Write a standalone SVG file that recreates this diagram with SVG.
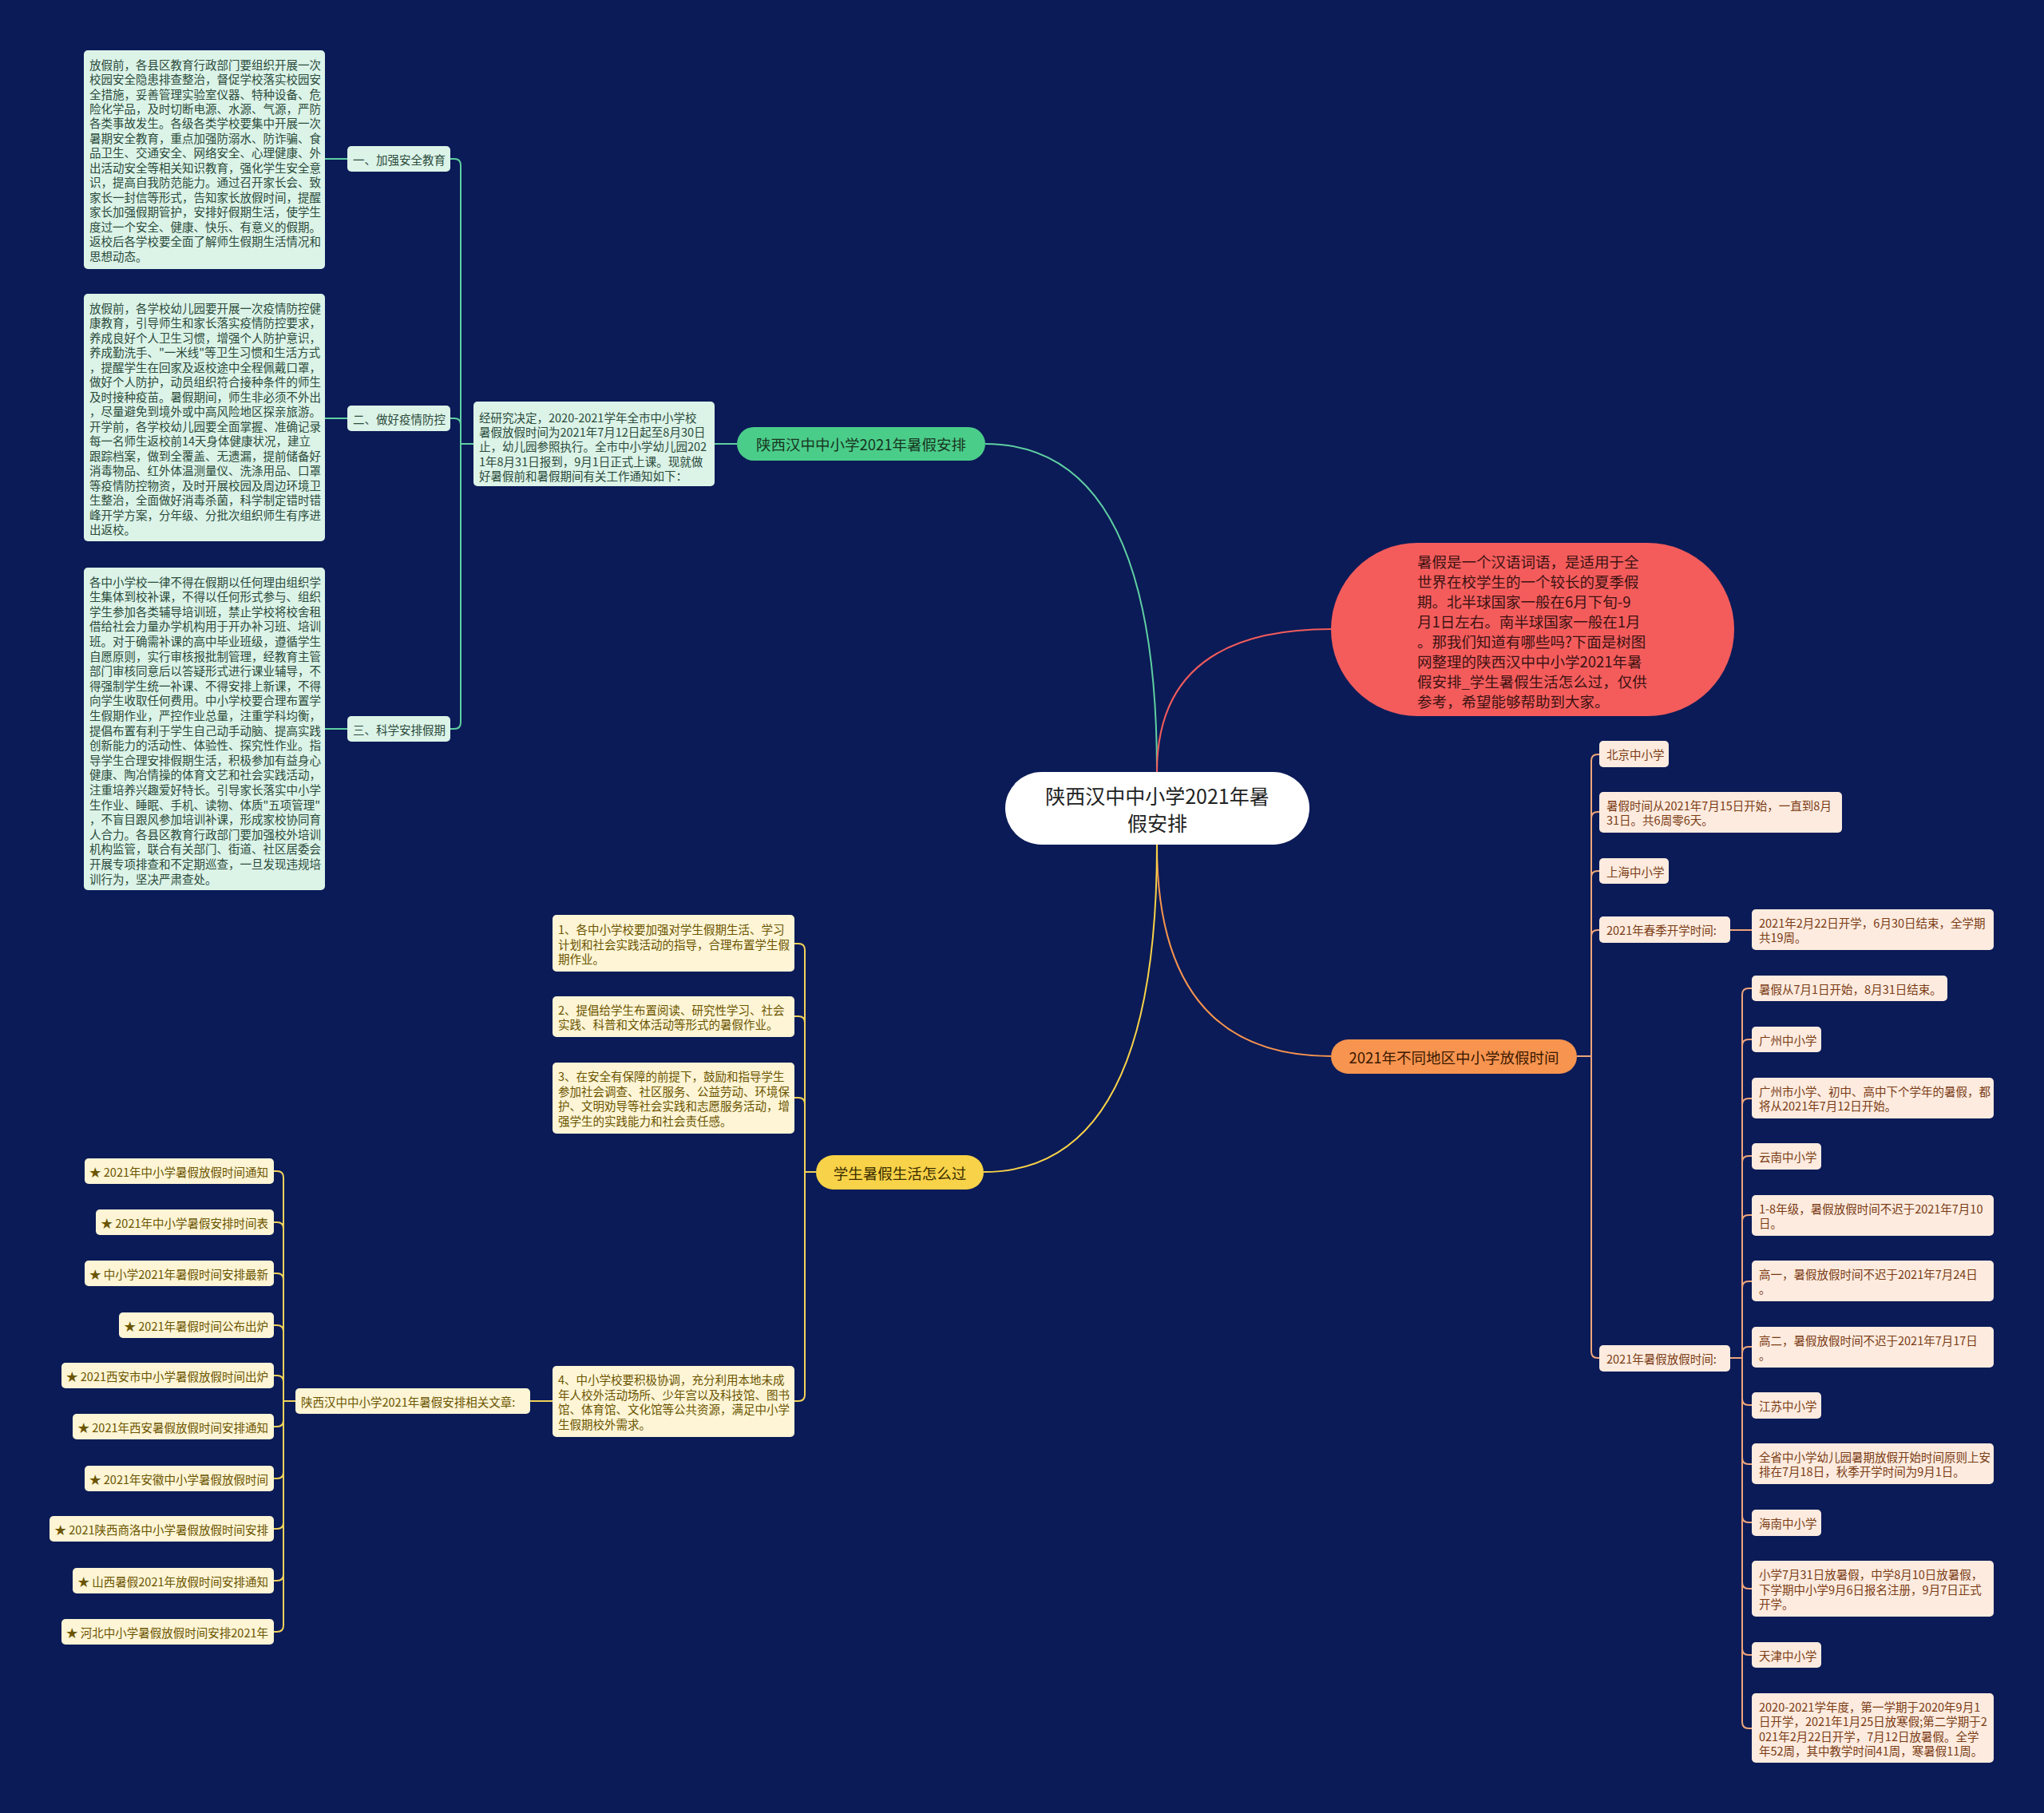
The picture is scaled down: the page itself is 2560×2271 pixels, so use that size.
<svg xmlns="http://www.w3.org/2000/svg" width="2560" height="2271" viewBox="0 0 2560 2271">
<style>
text{font-family:"Noto Sans CJK SC","Noto Sans",sans-serif;dominant-baseline:central}
.s{font-size:14.5px}
.m{font-size:18.5px}
.gb{fill:#dcf3e8}.gt{fill:#2b4b3b}
.pb{fill:#fdebdf}.pt{fill:#7a3b14}
.yb{fill:#fdf5d5}.yt{fill:#6b5400}
.c{fill:none;stroke-width:2}
.cg{stroke:#5fcfa2}.cr{stroke:#f25c5c}.co{stroke:#f7944f}.cp{stroke:#eea57a}.cy{stroke:#f8d248}.cy2{stroke:#f1d25a}
</style>
<rect x="0" y="0" width="2560" height="2271" fill="#0b1b57"/>

<g id="connectors">
  <path class="c cg" stroke-width="2.5" d="M1234,556 Q1449,556 1449,967"/>
  <path class="c cr" stroke-width="2.5" d="M1667,788 Q1449,788 1449,967"/>
  <path class="c co" stroke-width="2.5" d="M1449,1058 Q1449,1323 1667,1323"/>
  <path class="c cy" stroke-width="2.5" d="M1449,1058 Q1449,1468 1232,1468"/>
  <path class="c cg" d="M895,556 H923"/>
  <path class="c cg" d="M593,556 H577"/>
  <path class="c cg" d="M577,556 V207 Q577,199 569,199 H564"/>
  <path class="c cg" d="M577,556 V532 Q577,524 569,524 H564"/>
  <path class="c cg" d="M577,556 V905 Q577,913 569,913 H564"/>
  <path class="c cg" d="M407,199 H435"/>
  <path class="c cg" d="M407,524 H435"/>
  <path class="c cg" d="M407,913 H435"/>
  <path class="c cp" d="M1975,1323 H1993"/>
  <path class="c cp" d="M1993,1323 V953 Q1993,945 2001,945 H2003"/>
  <path class="c cp" d="M1993,1323 V1025 Q1993,1017 2001,1017 H2003"/>
  <path class="c cp" d="M1993,1323 V1099 Q1993,1091 2001,1091 H2003"/>
  <path class="c cp" d="M1993,1323 V1173 Q1993,1165 2001,1165 H2003"/>
  <path class="c cp" d="M1993,1323 V1693 Q1993,1701 2001,1701 H2003"/>
  <path class="c cp" d="M2167,1165 H2194"/>
  <path class="c cp" d="M2167,1701 H2182"/>
  <path class="c cp" d="M2182,1701 V1246 Q2182,1238 2190,1238 H2194"/>
  <path class="c cp" d="M2182,1701 V1310 Q2182,1302 2190,1302 H2194"/>
  <path class="c cp" d="M2182,1701 V1384 Q2182,1376 2190,1376 H2194"/>
  <path class="c cp" d="M2182,1701 V1456 Q2182,1448 2190,1448 H2194"/>
  <path class="c cp" d="M2182,1701 V1530 Q2182,1522 2190,1522 H2194"/>
  <path class="c cp" d="M2182,1701 V1613 Q2182,1605 2190,1605 H2194"/>
  <path class="c cp" d="M2182,1701 V1695 Q2182,1687 2190,1687 H2194"/>
  <path class="c cp" d="M2182,1701 V1752 Q2182,1760 2190,1760 H2194"/>
  <path class="c cp" d="M2182,1701 V1826 Q2182,1834 2190,1834 H2194"/>
  <path class="c cp" d="M2182,1701 V1899 Q2182,1907 2190,1907 H2194"/>
  <path class="c cp" d="M2182,1701 V1982 Q2182,1990 2190,1990 H2194"/>
  <path class="c cp" d="M2182,1701 V2065 Q2182,2073 2190,2073 H2194"/>
  <path class="c cp" d="M2182,1701 V2157 Q2182,2165 2190,2165 H2194"/>
  <path class="c cy2" d="M1022,1468 H1008"/>
  <path class="c cy2" d="M1008,1468 V1190 Q1008,1182 1000,1182 H995"/>
  <path class="c cy2" d="M1008,1468 V1281 Q1008,1273 1000,1273 H995"/>
  <path class="c cy2" d="M1008,1468 V1383 Q1008,1375 1000,1375 H995"/>
  <path class="c cy2" d="M1008,1468 V1747 Q1008,1755 1000,1755 H995"/>
  <path class="c cy2" d="M692,1755 H664"/>
  <path class="c cy2" d="M370,1755 H355"/>
  <path class="c cy2" d="M355,1755 V1475 Q355,1467 347,1467 H343"/>
  <path class="c cy2" d="M355,1755 V1539 Q355,1531 347,1531 H343"/>
  <path class="c cy2" d="M355,1755 V1603 Q355,1595 347,1595 H343"/>
  <path class="c cy2" d="M355,1755 V1668 Q355,1660 347,1660 H343"/>
  <path class="c cy2" d="M355,1755 V1731 Q355,1723 347,1723 H343"/>
  <path class="c cy2" d="M355,1755 V1779 Q355,1787 347,1787 H343"/>
  <path class="c cy2" d="M355,1755 V1844 Q355,1852 347,1852 H343"/>
  <path class="c cy2" d="M355,1755 V1907 Q355,1915 347,1915 H343"/>
  <path class="c cy2" d="M355,1755 V1972 Q355,1980 347,1980 H343"/>
  <path class="c cy2" d="M355,1755 V2036 Q355,2044 347,2044 H343"/>
</g>

<g id="center">
  <rect x="1259" y="967" width="381" height="91" rx="45.5" fill="#ffffff"/>
  <text x="1449.5" y="996" font-size="25" fill="#222" text-anchor="middle">陕西汉中中小学2021年暑</text>
  <text x="1449.5" y="1030" font-size="25" fill="#222" text-anchor="middle">假安排</text>
</g>

<g id="n-green">
  <rect x="923" y="535" width="311" height="42" rx="21" fill="#4bcd8a"/>
  <text x="1078.5" y="556" class="m" fill="#17351f" text-anchor="middle">陕西汉中中小学2021年暑假安排</text>
</g>

<g id="n-intro">
  <rect x="593" y="503" width="302" height="106" rx="5" class="gb"/>
  <text class="s gt" x="600" y="522">经研究决定，2020-2021学年全市中小学校</text>
  <text class="s gt" x="600" y="540">暑假放假时间为2021年7月12日起至8月30日</text>
  <text class="s gt" x="600" y="558">止，幼儿园参照执行。全市中小学幼儿园202</text>
  <text class="s gt" x="600" y="577">1年8月31日报到，9月1日正式上课。现就做</text>
  <text class="s gt" x="600" y="595">好暑假前和暑假期间有关工作通知如下：</text>
</g>

<g id="n-g1">
  <rect x="435" y="183" width="129" height="32" rx="5" class="gb"/>
  <text class="s gt" x="442" y="199">一、加强安全教育</text>
</g>
<g id="n-g2">
  <rect x="435" y="508" width="129" height="32" rx="5" class="gb"/>
  <text class="s gt" x="442" y="524">二、做好疫情防控</text>
</g>
<g id="n-g3">
  <rect x="435" y="897" width="129" height="32" rx="5" class="gb"/>
  <text class="s gt" x="442" y="913">三、科学安排假期</text>
</g>

<g id="n-g1t">
  <rect x="105" y="63" width="302" height="274" rx="5" class="gb"/>
  <text class="s gt" x="112" y="80">放假前，各县区教育行政部门要组织开展一次</text>
  <text class="s gt" x="112" y="98.5">校园安全隐患排查整治，督促学校落实校园安</text>
  <text class="s gt" x="112" y="117">全措施，妥善管理实验室仪器、特种设备、危</text>
  <text class="s gt" x="112" y="135.4">险化学品，及时切断电源、水源、气源，严防</text>
  <text class="s gt" x="112" y="153.8">各类事故发生。各级各类学校要集中开展一次</text>
  <text class="s gt" x="112" y="172.3">暑期安全教育，重点加强防溺水、防诈骗、食</text>
  <text class="s gt" x="112" y="190.8">品卫生、交通安全、网络安全、心理健康、外</text>
  <text class="s gt" x="112" y="209.2">出活动安全等相关知识教育，强化学生安全意</text>
  <text class="s gt" x="112" y="227.7">识，提高自我防范能力。通过召开家长会、致</text>
  <text class="s gt" x="112" y="246.1">家长一封信等形式，告知家长放假时间，提醒</text>
  <text class="s gt" x="112" y="264.6">家长加强假期管护，安排好假期生活，使学生</text>
  <text class="s gt" x="112" y="283">度过一个安全、健康、快乐、有意义的假期。</text>
  <text class="s gt" x="112" y="301.5">返校后各学校要全面了解师生假期生活情况和</text>
  <text class="s gt" x="112" y="320">思想动态。</text>
</g>

<g id="n-g2t">
  <rect x="105" y="368" width="302" height="310" rx="5" class="gb"/>
  <text class="s gt" x="112" y="385">放假前，各学校幼儿园要开展一次疫情防控健</text>
  <text class="s gt" x="112" y="403.5">康教育，引导师生和家长落实疫情防控要求，</text>
  <text class="s gt" x="112" y="422">养成良好个人卫生习惯，增强个人防护意识，</text>
  <text class="s gt" x="112" y="440.5">养成勤洗手、"一米线"等卫生习惯和生活方式</text>
  <text class="s gt" x="112" y="459">，提醒学生在回家及返校途中全程佩戴口罩，</text>
  <text class="s gt" x="112" y="477.5">做好个人防护，动员组织符合接种条件的师生</text>
  <text class="s gt" x="112" y="496">及时接种疫苗。暑假期间，师生非必须不外出</text>
  <text class="s gt" x="112" y="514.5">，尽量避免到境外或中高风险地区探亲旅游。</text>
  <text class="s gt" x="112" y="533">开学前，各学校幼儿园要全面掌握、准确记录</text>
  <text class="s gt" x="112" y="551.5">每一名师生返校前14天身体健康状况，建立</text>
  <text class="s gt" x="112" y="570">跟踪档案，做到全覆盖、无遗漏，提前储备好</text>
  <text class="s gt" x="112" y="588.5">消毒物品、红外体温测量仪、洗涤用品、口罩</text>
  <text class="s gt" x="112" y="607">等疫情防控物资，及时开展校园及周边环境卫</text>
  <text class="s gt" x="112" y="625.5">生整治，全面做好消毒杀菌，科学制定错时错</text>
  <text class="s gt" x="112" y="644">峰开学方案，分年级、分批次组织师生有序进</text>
  <text class="s gt" x="112" y="662.5">出返校。</text>
</g>

<g id="n-g3t">
  <rect x="105" y="711" width="302" height="404" rx="5" class="gb"/>
  <text class="s gt" x="112" y="728">各中小学校一律不得在假期以任何理由组织学</text>
  <text class="s gt" x="112" y="746.6">生集体到校补课，不得以任何形式参与、组织</text>
  <text class="s gt" x="112" y="765.2">学生参加各类辅导培训班，禁止学校将校舍租</text>
  <text class="s gt" x="112" y="783.8">借给社会力量办学机构用于开办补习班、培训</text>
  <text class="s gt" x="112" y="802.4">班。对于确需补课的高中毕业班级，遵循学生</text>
  <text class="s gt" x="112" y="821">自愿原则，实行审核报批制管理，经教育主管</text>
  <text class="s gt" x="112" y="839.6">部门审核同意后以答疑形式进行课业辅导，不</text>
  <text class="s gt" x="112" y="858.2">得强制学生统一补课、不得安排上新课，不得</text>
  <text class="s gt" x="112" y="876.8">向学生收取任何费用。中小学校要合理布置学</text>
  <text class="s gt" x="112" y="895.4">生假期作业，严控作业总量，注重学科均衡，</text>
  <text class="s gt" x="112" y="914">提倡布置有利于学生自己动手动脑、提高实践</text>
  <text class="s gt" x="112" y="932.6">创新能力的活动性、体验性、探究性作业。指</text>
  <text class="s gt" x="112" y="951.2">导学生合理安排假期生活，积极参加有益身心</text>
  <text class="s gt" x="112" y="969.8">健康、陶冶情操的体育文艺和社会实践活动，</text>
  <text class="s gt" x="112" y="988.4">注重培养兴趣爱好特长。引导家长落实中小学</text>
  <text class="s gt" x="112" y="1007">生作业、睡眠、手机、读物、体质"五项管理"</text>
  <text class="s gt" x="112" y="1025.6">，不盲目跟风参加培训补课，形成家校协同育</text>
  <text class="s gt" x="112" y="1044.2">人合力。各县区教育行政部门要加强校外培训</text>
  <text class="s gt" x="112" y="1062.8">机构监管，联合有关部门、街道、社区居委会</text>
  <text class="s gt" x="112" y="1081.4">开展专项排查和不定期巡查，一旦发现违规培</text>
  <text class="s gt" x="112" y="1100">训行为，坚决严肃查处。</text>
</g>

<g id="n-red">
  <rect x="1667" y="680" width="505" height="217" rx="108.5" fill="#f45c5c"/>
  <text x="1775" y="703" font-size="18.5" fill="#3d1212">暑假是一个汉语词语，是适用于全</text>
  <text x="1775" y="728" font-size="18.5" fill="#3d1212">世界在校学生的一个较长的夏季假</text>
  <text x="1775" y="753" font-size="18.5" fill="#3d1212">期。北半球国家一般在6月下旬-9</text>
  <text x="1775" y="778" font-size="18.5" fill="#3d1212">月1日左右。南半球国家一般在1月</text>
  <text x="1775" y="803" font-size="18.5" fill="#3d1212">。那我们知道有哪些吗?下面是树图</text>
  <text x="1775" y="828" font-size="18.5" fill="#3d1212">网整理的陕西汉中中小学2021年暑</text>
  <text x="1775" y="853" font-size="18.5" fill="#3d1212">假安排_学生暑假生活怎么过，仅供</text>
  <text x="1775" y="878" font-size="18.5" fill="#3d1212">参考，希望能够帮助到大家。</text>
</g>

<g id="n-orange">
  <rect x="1667" y="1302" width="308" height="43" rx="21.5" fill="#f7944f"/>
  <text x="1821" y="1323.5" class="m" fill="#3a1800" text-anchor="middle">2021年不同地区中小学放假时间</text>
</g>

<g id="n-o1"><rect x="2003" y="928" width="87" height="33" rx="5" class="pb"/><text class="s pt" x="2012" y="944.5">北京中小学</text></g>
<g id="n-o2"><rect x="2003" y="992" width="304" height="51" rx="5" class="pb"/><text class="s pt" x="2012" y="1008.5">暑假时间从2021年7月15日开始，一直到8月</text><text class="s pt" x="2012" y="1026.8">31日。共6周零6天。</text></g>
<g id="n-o3"><rect x="2003" y="1075" width="87" height="32" rx="5" class="pb"/><text class="s pt" x="2012" y="1091">上海中小学</text></g>
<g id="n-o4"><rect x="2003" y="1148" width="164" height="33" rx="5" class="pb"/><text class="s pt" x="2012" y="1164.5">2021年春季开学时间:</text></g>
<g id="n-o4a"><rect x="2194" y="1139" width="303" height="51" rx="5" class="pb"/><text class="s pt" x="2203" y="1155.4">2021年2月22日开学，6月30日结束，全学期</text><text class="s pt" x="2203" y="1173.7">共19周。</text></g>
<g id="n-o5"><rect x="2003" y="1685" width="164" height="33" rx="5" class="pb"/><text class="s pt" x="2012" y="1701.5">2021年暑假放假时间:</text></g>
<g id="n-o5a"><rect x="2194" y="1222" width="245" height="32" rx="5" class="pb"/><text class="s pt" x="2203" y="1238">暑假从7月1日开始，8月31日结束。</text></g>
<g id="n-o5b"><rect x="2194" y="1286" width="87" height="32" rx="5" class="pb"/><text class="s pt" x="2203" y="1302">广州中小学</text></g>
<g id="n-o5c"><rect x="2194" y="1350" width="303" height="51" rx="5" class="pb"/><text class="s pt" x="2203" y="1366.4">广州市小学、初中、高中下个学年的暑假，都</text><text class="s pt" x="2203" y="1384.7">将从2021年7月12日开始。</text></g>
<g id="n-o5d"><rect x="2194" y="1432" width="87" height="33" rx="5" class="pb"/><text class="s pt" x="2203" y="1448.5">云南中小学</text></g>
<g id="n-o5e"><rect x="2194" y="1497" width="303" height="51" rx="5" class="pb"/><text class="s pt" x="2203" y="1513.4">1-8年级，暑假放假时间不迟于2021年7月10</text><text class="s pt" x="2203" y="1531.7">日。</text></g>
<g id="n-o5f"><rect x="2194" y="1579" width="303" height="51" rx="5" class="pb"/><text class="s pt" x="2203" y="1595.4">高一，暑假放假时间不迟于2021年7月24日</text><text class="s pt" x="2203" y="1613.7">。</text></g>
<g id="n-o5g"><rect x="2194" y="1662" width="303" height="51" rx="5" class="pb"/><text class="s pt" x="2203" y="1678.4">高二，暑假放假时间不迟于2021年7月17日</text><text class="s pt" x="2203" y="1696.7">。</text></g>
<g id="n-o5h"><rect x="2194" y="1744" width="87" height="33" rx="5" class="pb"/><text class="s pt" x="2203" y="1760.5">江苏中小学</text></g>
<g id="n-o5i"><rect x="2194" y="1808" width="303" height="51" rx="5" class="pb"/><text class="s pt" x="2203" y="1824.4">全省中小学幼儿园暑期放假开始时间原则上安</text><text class="s pt" x="2203" y="1842.7">排在7月18日，秋季开学时间为9月1日。</text></g>
<g id="n-o5j"><rect x="2194" y="1891" width="87" height="33" rx="5" class="pb"/><text class="s pt" x="2203" y="1907.5">海南中小学</text></g>
<g id="n-o5k"><rect x="2194" y="1955" width="303" height="70" rx="5" class="pb"/><text class="s pt" x="2203" y="1971.7">小学7月31日放暑假，中学8月10日放暑假，</text><text class="s pt" x="2203" y="1990">下学期中小学9月6日报名注册，9月7日正式</text><text class="s pt" x="2203" y="2008.3">开学。</text></g>
<g id="n-o5l"><rect x="2194" y="2057" width="87" height="32" rx="5" class="pb"/><text class="s pt" x="2203" y="2073">天津中小学</text></g>
<g id="n-o5m"><rect x="2194" y="2121" width="303" height="87" rx="5" class="pb"/><text class="s pt" x="2203" y="2137.6">2020-2021学年度，第一学期于2020年9月1</text><text class="s pt" x="2203" y="2155.9">日开学，2021年1月25日放寒假;第二学期于2</text><text class="s pt" x="2203" y="2174.2">021年2月22日开学，7月12日放暑假。全学</text><text class="s pt" x="2203" y="2192.5">年52周，其中教学时间41周，寒暑假11周。</text></g>

<g id="n-yellow">
  <rect x="1022" y="1447" width="210" height="43" rx="21.5" fill="#f8d248"/>
  <text x="1127" y="1468.5" class="m" fill="#3a2e00" text-anchor="middle">学生暑假生活怎么过</text>
</g>
<g id="n-y1"><rect x="692" y="1146" width="303" height="71" rx="5" class="yb"/><text class="s yt" x="699" y="1163.4">1、各中小学校要加强对学生假期生活、学习</text><text class="s yt" x="699" y="1182">计划和社会实践活动的指导，合理布置学生假</text><text class="s yt" x="699" y="1200.6">期作业。</text></g>
<g id="n-y2"><rect x="692" y="1248" width="303" height="51" rx="5" class="yb"/><text class="s yt" x="699" y="1264.2">2、提倡给学生布置阅读、研究性学习、社会</text><text class="s yt" x="699" y="1282.5">实践、科普和文体活动等形式的暑假作业。</text></g>
<g id="n-y3"><rect x="692" y="1331" width="303" height="89" rx="5" class="yb"/><text class="s yt" x="699" y="1347.6">3、在安全有保障的前提下，鼓励和指导学生</text><text class="s yt" x="699" y="1366.2">参加社会调查、社区服务、公益劳动、环境保</text><text class="s yt" x="699" y="1384.8">护、文明劝导等社会实践和志愿服务活动，增</text><text class="s yt" x="699" y="1403.4">强学生的实践能力和社会责任感。</text></g>
<g id="n-y4"><rect x="692" y="1711" width="303" height="89" rx="5" class="yb"/><text class="s yt" x="699" y="1727.6">4、中小学校要积极协调，充分利用本地未成</text><text class="s yt" x="699" y="1746.2">年人校外活动场所、少年宫以及科技馆、图书</text><text class="s yt" x="699" y="1764.8">馆、体育馆、文化馆等公共资源，满足中小学</text><text class="s yt" x="699" y="1783.4">生假期校外需求。</text></g>
<g id="n-y5"><rect x="370" y="1739" width="294" height="32" rx="5" class="yb"/><text class="s yt" x="377" y="1755">陕西汉中中小学2021年暑假安排相关文章:</text></g>

<g id="n-r1"><rect x="106" y="1451" width="237" height="32" rx="5" class="yb"/><text class="s yt" x="336" y="1467" text-anchor="end">★ 2021年中小学暑假放假时间通知</text></g>
<g id="n-r2"><rect x="120" y="1515" width="223" height="32" rx="5" class="yb"/><text class="s yt" x="336" y="1531" text-anchor="end">★ 2021年中小学暑假安排时间表</text></g>
<g id="n-r3"><rect x="106" y="1579" width="237" height="32" rx="5" class="yb"/><text class="s yt" x="336" y="1595" text-anchor="end">★ 中小学2021年暑假时间安排最新</text></g>
<g id="n-r4"><rect x="149" y="1644" width="194" height="32" rx="5" class="yb"/><text class="s yt" x="336" y="1660" text-anchor="end">★ 2021年暑假时间公布出炉</text></g>
<g id="n-r5"><rect x="77" y="1707" width="266" height="32" rx="5" class="yb"/><text class="s yt" x="336" y="1723" text-anchor="end">★ 2021西安市中小学暑假放假时间出炉</text></g>
<g id="n-r6"><rect x="91" y="1771" width="252" height="32" rx="5" class="yb"/><text class="s yt" x="336" y="1787" text-anchor="end">★ 2021年西安暑假放假时间安排通知</text></g>
<g id="n-r7"><rect x="106" y="1836" width="237" height="32" rx="5" class="yb"/><text class="s yt" x="336" y="1852" text-anchor="end">★ 2021年安徽中小学暑假放假时间</text></g>
<g id="n-r8"><rect x="62" y="1899" width="281" height="32" rx="5" class="yb"/><text class="s yt" x="336" y="1915" text-anchor="end">★ 2021陕西商洛中小学暑假放假时间安排</text></g>
<g id="n-r9"><rect x="91" y="1964" width="252" height="32" rx="5" class="yb"/><text class="s yt" x="336" y="1980" text-anchor="end">★ 山西暑假2021年放假时间安排通知</text></g>
<g id="n-r10"><rect x="77" y="2028" width="266" height="32" rx="5" class="yb"/><text class="s yt" x="336" y="2044" text-anchor="end">★ 河北中小学暑假放假时间安排2021年</text></g>
</svg>
